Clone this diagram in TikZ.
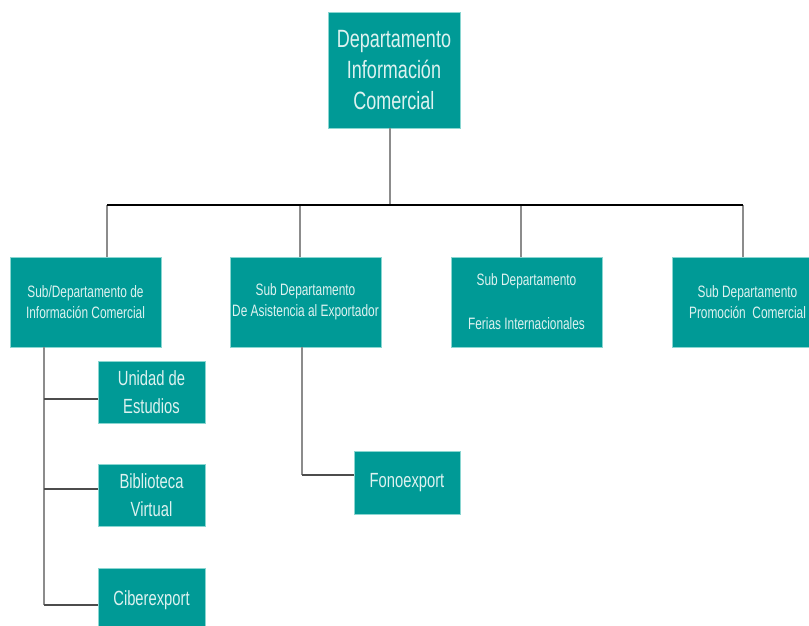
\documentclass[tikz,border=0pt]{standalone}
\usepackage{fontspec}
\newfontfamily\orgfont[FakeStretch=0.72]{Liberation Sans}
\definecolor{orgteal}{HTML}{009A96}
\definecolor{orgtext}{HTML}{DDF2F0}
\definecolor{orgedge}{HTML}{8AD6D1}

\begin{document}
\begin{tikzpicture}[x=1pt,y=-1pt]
\tikzstyle{unit}=[rectangle,draw=orgedge,line width=0.8pt,fill=orgteal,text=orgtext,align=center,inner sep=0pt]
\tikzstyle{head}=[unit,minimum width=132pt,minimum height=116pt,font=\orgfont\fontsize{25}{31}\selectfont]
\tikzstyle{sub}=[unit,minimum width=151pt,minimum height=90pt,font=\orgfont\fontsize{16.5}{21}\selectfont]
\tikzstyle{leaf}=[unit,minimum width=107pt,minimum height=62pt,font=\orgfont\fontsize{20.5}{28}\selectfont]
\tikzstyle{bar}=[black,line width=2.5pt]
\tikzstyle{drop}=[black!45,line width=2pt]
\tikzstyle{link}=[black!70,line width=2.5pt]
\clip (0,0) rectangle (809,625);
\fill[white] (0,0) rectangle (809,625);

\node[head] (dept) at (394,70) {Departamento\\Información\\Comercial};
\node[sub] (subinfo) at (85.5,302) {Sub/Departamento de\\Información Comercial};
\node[sub] (subexp) at (305.5,302) {Sub Departamento\\De Asistencia al Exportador};
\node[sub] (subferias) at (526.5,302) {Sub Departamento\\[23pt]Ferias Internacionales};
\node[sub] (subpromo) at (747.5,302) {Sub Departamento\\Promoción\ \ Comercial};
\node[leaf] (estudios) at (151.5,392) {Unidad de\\Estudios};
\node[leaf] (biblio) at (151.5,495) {Biblioteca\\Virtual};
\node[leaf,minimum height=64pt] (ciber) at (151.5,600) {Ciberexport};
\node[leaf,minimum width=106pt,minimum height=63pt] (fono) at (407,482.5) {Fonoexport};

% main bar
\coordinate (barline) at (0,205);
\coordinate (dRoot) at ([xshift=-4pt]dept.south);
\coordinate (dA) at ([xshift=21.5pt]subinfo.north);
\coordinate (dD) at ([xshift=-4.5pt]subpromo.north);
\draw[drop] (dRoot) -- (dRoot |- barline);
\foreach \n/\dx in {subinfo/21.5,subexp/-5.5,subferias/-5.5,subpromo/-4.5}{
  \coordinate (t) at ([xshift=\dx pt]\n.north);
  \draw[drop] (t) -- (t |- barline);
}
\draw[bar] (dA |- barline) -- (dD |- barline);

% lower branches
\coordinate (tInfo) at ([xshift=-41.5pt]subinfo.south);
\coordinate (cE) at ([yshift=-7pt]estudios.west);
\coordinate (cB) at ([yshift=6pt]biblio.west);
\coordinate (cC) at ([yshift=-5pt]ciber.west);
\draw[drop] (tInfo) -- (tInfo |- cC);
\foreach \c in {cE,cB,cC}
  \draw[link] (tInfo |- \c) -- (\c);

\coordinate (tExp) at ([xshift=-3.5pt]subexp.south);
\coordinate (cF) at ([yshift=7.5pt]fono.west);
\draw[drop] (tExp) -- (tExp |- cF);
\draw[link] (tExp |- cF) -- (cF);
\end{tikzpicture}
\end{document}
